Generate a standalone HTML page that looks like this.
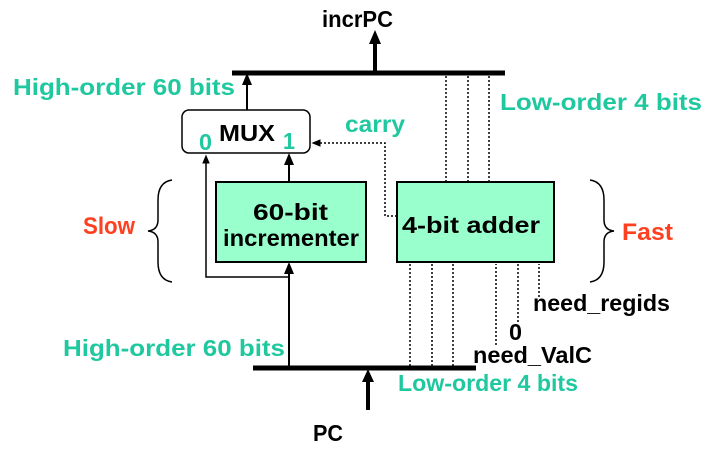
<!DOCTYPE html>
<html><head><style>body{margin:0;background:#fff}svg{display:block}text{font-family:"Liberation Sans",sans-serif;font-weight:bold}</style></head><body>
<svg width="712" height="454" viewBox="0 0 712 454" xmlns="http://www.w3.org/2000/svg">
<defs><marker id="a" markerWidth="6" markerHeight="6" refX="3" refY="3" orient="auto"><path d="M0,0.5 L6,3 L0,5.5 Z" fill="#000"/></marker></defs>
<g stroke="#000" fill="none">
<line x1="232" y1="73" x2="505" y2="73" stroke-width="5"/>
<line x1="375" y1="73" x2="375" y2="42" stroke-width="4"/>
<path d="M369,44 L375,30 L381,44 Z" fill="#000" stroke="none"/>
<line x1="253" y1="368" x2="476" y2="368" stroke-width="5"/>
<line x1="368" y1="410" x2="368" y2="380" stroke-width="4"/>
<path d="M362,382 L368,369 L374,382 Z" fill="#000" stroke="none"/>
<rect x="182" y="110" width="128" height="43" rx="7" stroke-width="1.5" fill="#fff"/>
<rect x="216" y="182" width="150" height="80" stroke-width="2" fill="#99ffcc"/>
<rect x="397" y="182" width="157" height="80" stroke-width="2" fill="#99ffcc"/>
<line x1="247" y1="110" x2="247" y2="79" stroke-width="2" marker-end="url(#a)"/>
<line x1="289" y1="182" x2="289" y2="159" stroke-width="2" marker-end="url(#a)"/>
<line x1="289" y1="366" x2="289" y2="268" stroke-width="2" marker-end="url(#a)"/>
<path d="M289,277 H206 V159" stroke-width="1.5" marker-end="url(#a)"/>
<g stroke-width="1.5" stroke-dasharray="2,2">
<path d="M397,216 H385 V143 H316" marker-end="url(#a)"/>
<line x1="446" y1="182" x2="446" y2="75"/><line x1="468" y1="182" x2="468" y2="75"/><line x1="489" y1="182" x2="489" y2="75"/>
<line x1="410" y1="366" x2="410" y2="264"/><line x1="432" y1="366" x2="432" y2="264"/><line x1="453" y1="366" x2="453" y2="264"/>
<line x1="496" y1="345" x2="496" y2="264"/><line x1="518" y1="322" x2="518" y2="264"/><line x1="539" y1="297" x2="539" y2="264"/>
</g>
<path d="M172,180 Q158,182 158,200 V220 Q158,230 148,231 Q158,232 158,242 V262 Q158,280 172,282" stroke-width="1.5"/>
<path d="M590,180 Q604,182 604,200 V220 Q604,230 614,231 Q604,232 604,242 V262 Q604,280 590,282" stroke-width="1.5"/>
</g>
<g font-size="23" fill="#20c8a0">
<text x="13" y="95" textLength="222" lengthAdjust="spacingAndGlyphs">High-order 60 bits</text>
<text x="500" y="110" textLength="202" lengthAdjust="spacingAndGlyphs">Low-order 4 bits</text>
<text x="345" y="132" textLength="60" lengthAdjust="spacingAndGlyphs">carry</text>
<text x="63" y="356" textLength="222" lengthAdjust="spacingAndGlyphs">High-order 60 bits</text>
<text x="398" y="391" textLength="180" lengthAdjust="spacingAndGlyphs">Low-order 4 bits</text>
<text x="199" y="150" textLength="13" lengthAdjust="spacingAndGlyphs">0</text><text x="283" y="149" textLength="12" lengthAdjust="spacingAndGlyphs">1</text>
</g>
<g font-size="23" fill="#000">
<text x="322" y="27" textLength="71" lengthAdjust="spacingAndGlyphs">incrPC</text>
<text x="219" y="141" textLength="56" lengthAdjust="spacingAndGlyphs">MUX</text>
<text x="253" y="220" textLength="75" lengthAdjust="spacingAndGlyphs">60-bit</text>
<text x="223" y="246" textLength="136" lengthAdjust="spacingAndGlyphs">incrementer</text>
<text x="402" y="233" textLength="138" lengthAdjust="spacingAndGlyphs">4-bit adder</text>
<text x="533" y="311" textLength="137" lengthAdjust="spacingAndGlyphs">need_regids</text>
<text x="509" y="340" textLength="13" lengthAdjust="spacingAndGlyphs">0</text>
<text x="473" y="363" textLength="119" lengthAdjust="spacingAndGlyphs">need_ValC</text>
<text x="313" y="441" textLength="30" lengthAdjust="spacingAndGlyphs">PC</text>
</g>
<g font-size="24" fill="#ff4020">
<text x="83" y="234" textLength="52" lengthAdjust="spacingAndGlyphs">Slow</text>
<text x="622" y="240" textLength="51" lengthAdjust="spacingAndGlyphs">Fast</text>
</g>
</svg>
</body></html>
